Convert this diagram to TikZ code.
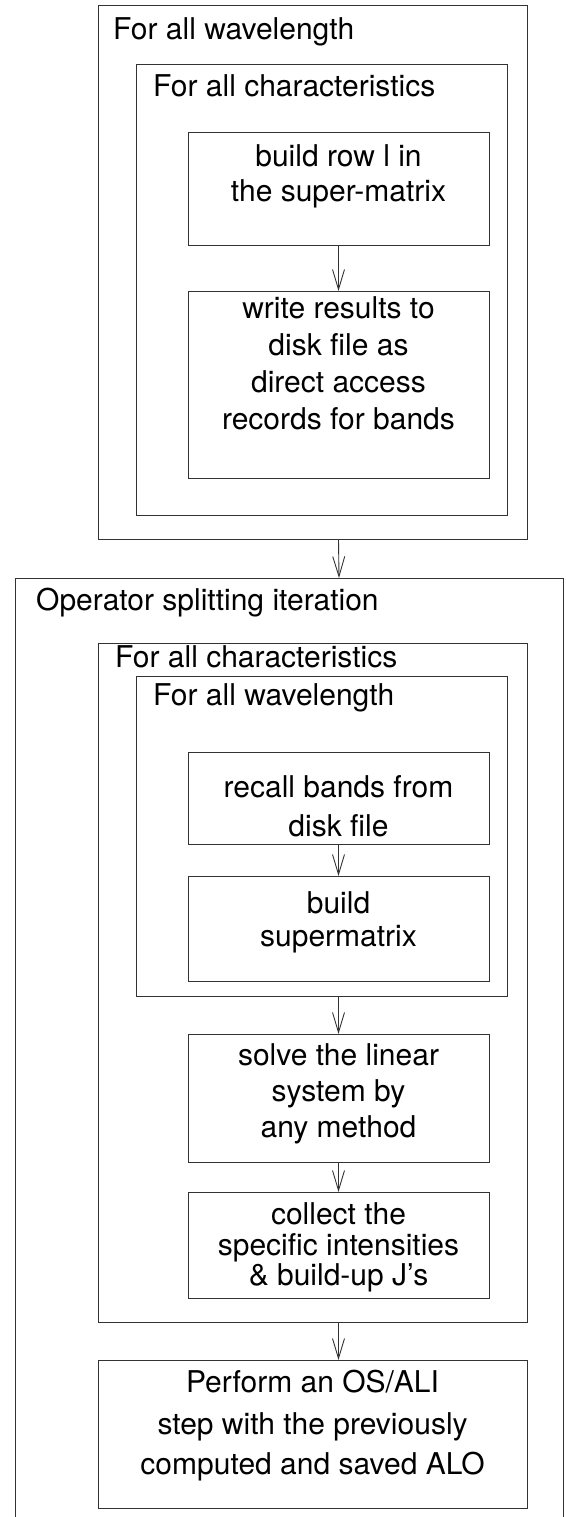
\documentclass[tikz,border=0pt]{standalone}
\usepackage{fontspec}
\setmainfont{TeX Gyre Heros}
\usetikzlibrary{arrows.meta}
\begin{document}
\begin{tikzpicture}[x=1pt,y=-1pt,
  frame/.style={draw=black!80,line width=0.9pt,anchor=north west,inner sep=0pt,outer sep=0pt},
  lbl/.style={anchor=base west,inner sep=0pt,font=\fontsize{30}{36}\selectfont},
  txt/.style={anchor=base,inner sep=0pt,font=\fontsize{30}{36}\selectfont},
  arr/.style={draw=black!80,line width=0.9pt,-{Straight Barb[length=20pt,width=12pt,line width=0.9pt]}}]
\useasboundingbox (0,0) rectangle (565,1517);
% upper section
\node[frame,minimum width=429pt,minimum height=534pt] (wl1) at (98,5) {};
\node[frame,minimum width=371pt,minimum height=451pt] (ch1) at (136,64) {};
\node[frame,minimum width=301pt,minimum height=113pt] (row) at (188,132) {};
\node[frame,minimum width=301pt,minimum height=187pt] (wri) at (188,291) {};
\node[lbl] (l1) at (113,40) {For all wavelength};
\node[lbl] (l2) at (153,97) {For all characteristics};
\node[txt] (t1a) at (338.5,167) {build row l in};
\node[txt] (t1b) at (338.5,201) {the super-matrix};
\node[txt] (t2a) at (338.5,318) {write results to};
\node[txt] (t2b) at (338.5,355) {disk file as};
\node[txt] (t2c) at (338.5,392) {direct access};
\node[txt] (t2d) at (338.5,429) {records for bands};
% lower section
\draw[draw=black!80,line width=0.9pt] (15,1517) -- (15,578) -- (563,578) -- (563,1517);
\coordinate (optop) at (339,578);
\node[lbl] (l3) at (36,610) {Operator splitting iteration};
\node[frame,minimum width=429pt,minimum height=679pt] (ch2) at (98,643) {};
\node[frame,minimum width=371pt,minimum height=320pt] (wl2) at (136,676) {};
\node[lbl] (l4) at (115,667) {For all characteristics};
\node[lbl] (l5) at (153,705) {For all wavelength};
\node[frame,minimum width=301pt,minimum height=92pt] (rec) at (188,752) {};
\node[txt] (t3a) at (338.5,797) {recall bands from};
\node[txt] (t3b) at (338.5,836) {disk file};
\node[frame,minimum width=301pt,minimum height=105pt] (sup) at (188,876) {};
\node[txt] (t4a) at (338.5,913) {build};
\node[txt] (t4b) at (338.5,946) {supermatrix};
\node[frame,minimum width=301pt,minimum height=128pt] (sol) at (188,1034) {};
\node[txt] (t5a) at (338.5,1065) {solve the linear};
\node[txt] (t5b) at (338.5,1101) {system by};
\node[txt] (t5c) at (338.5,1137) {any method};
\node[frame,minimum width=301pt,minimum height=106pt] (col) at (188,1192) {};
\node[txt] (t6a) at (338.5,1224) {collect the};
\node[txt] (t6b) at (338.5,1255) {specific intensities};
\node[txt] (t6c) at (338.5,1285) {\& build-up J’s};
\node[frame,minimum width=429pt,minimum height=148pt] (per) at (98,1360) {};
\node[txt] (t7a) at (312.5,1392) {Perform an OS/ALI};
\node[txt] (t7b) at (312.5,1434) {step with the previously};
\node[txt] (t7c) at (312.5,1474) {computed and saved ALO};
% connectors
\draw[arr] (row.south) -- (wri.north);
\draw[arr] (wl1.south -| row.south) -- (optop);
\draw[arr] (rec.south) -- (sup.north);
\draw[arr] (wl2.south -| sol.north) -- (sol.north);
\draw[arr] (sol.south) -- (col.north);
\draw[arr] (ch2.south -| col.south) -- (per.north -| col.south);
\end{tikzpicture}
\end{document}
